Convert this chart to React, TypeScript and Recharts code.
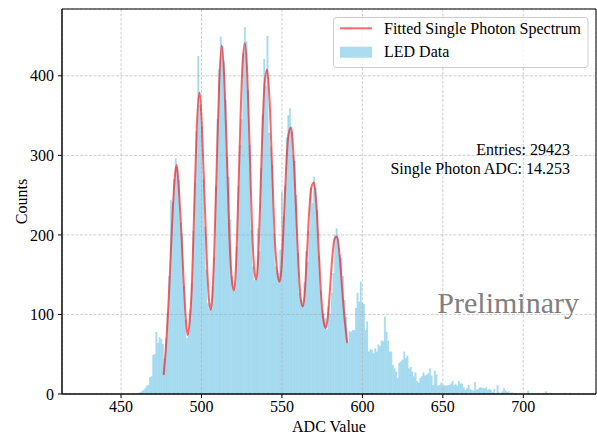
import React from 'react';
import {
  ComposedChart, LineChart, Bar, Line, XAxis, YAxis, CartesianGrid, ReferenceArea, Label
} from 'recharts';

const FONT = '"Liberation Serif", "Times New Roman", serif';

// LED histogram, one bin per ADC count starting at 461
const FIRST_BIN = 461;
const ledCounts = [
  1, 2, 3, 5, 7, 10, 11, 21, 22, 49,
  50, 78, 64, 71, 69, 63, 44, 70, 102, 148,
  244, 241, 270, 296, 285, 269, 215, 202, 135, 93,
  70, 76, 106, 139, 205, 265, 330, 425, 363, 336,
  270, 210, 156, 114, 106, 108, 135, 171, 261, 345,
  408, 449, 437, 418, 370, 298, 273, 219, 148, 129,
  139, 185, 261, 313, 345, 428, 461, 443, 382, 313,
  206, 160, 143, 145, 208, 179, 284, 351, 421, 387,
  450, 328, 311, 288, 202, 160, 155, 152, 181, 254,
  223, 262, 322, 350, 359, 330, 300, 293, 250, 177,
  127, 118, 112, 140, 179, 166, 204, 259, 240, 273,
  259, 231, 173, 130, 106, 101, 95, 81, 110, 101,
  127, 152, 200, 208, 196, 175, 171, 148, 118, 97,
  64, 79, 78, 80, 80, 108, 127, 116, 141, 114,
  113, 80, 91, 53, 56, 55, 51, 57, 53, 62,
  60, 67, 66, 97, 78, 67, 53, 53, 36, 32,
  28, 20, 39, 41, 43, 53, 45, 48, 32, 34,
  28, 22, 27, 16, 14, 20, 22, 27, 23, 24,
  26, 32, 23, 11, 29, 24, 10, 11, 14, 11,
  11, 10, 11, 11, 13, 16, 11, 12, 10, 16,
  13, 13, 8, 5, 7, 11, 6, 5, 4, 15,
  5, 6, 8, 8, 7, 7, 8, 5, 6, 5,
  2, 6, 1, 11, 2, 1, 3, 7, 4, 2,
  3, 1, 2, 1, 1, 1, 0, 1, 0, 1,
  0, 1, 4, 0, 1, 0, 0, 1, 0, 1,
  0, 0, 1, 3, 1, 0, 1, 0, 1, 0,
  0, 1, 0, 0, 0, 1, 0, 0, 1, 0,
];
const adcBins = ledCounts.map((_, i) => FIRST_BIN + i);

// fitted single photon spectrum
const fitAdc = [
  476.5, 478, 480, 482, 483.5, 484.6, 486, 487.5, 489, 490.3,
  491.4, 492.6, 494, 495.5, 497, 498.7, 500.3, 502, 503.5, 504.7,
  505.7, 506.8, 508, 509.5, 511, 512.6, 514.2, 515.8, 517.3, 518.8,
  520.1, 521.3, 522.5, 524, 525.5, 527, 528.5, 530, 531.5, 532.9,
  534, 535.1, 536.3, 537.7, 539.2, 540.8, 542.3, 543.8, 545.3, 547,
  548.5, 549.7, 551, 552.5, 554, 555.6, 557.2, 558.8, 560.3, 561.7,
  562.9, 564.1, 565.4, 566.8, 568.3, 569.9, 571.5, 573, 574.5, 576,
  577.2, 578.4, 579.8, 581.2, 582.7, 584.2, 585.8, 587.3, 588.9, 590.6,
];
const fitCounts = [
  24, 62, 135, 225, 275, 288, 255, 202, 139, 93,
  74, 90, 135, 235, 332, 379, 335, 240, 160, 117,
  106, 125, 185, 290, 390, 438, 395, 300, 200, 145,
  130, 155, 225, 330, 415, 441, 400, 305, 205, 155,
  144, 165, 230, 320, 390, 408, 370, 290, 205, 155,
  141, 158, 210, 280, 325, 335, 300, 230, 160, 120,
  110, 125, 170, 225, 260, 266, 235, 175, 120, 90,
  83, 95, 130, 170, 195, 198, 175, 135, 95, 64,
];

const xTicks = [450, 500, 550, 600, 650, 700];
const yTicks = [0, 100, 200, 300, 400];
const gridYTicks = [100, 200, 300, 400];
const X_DOMAIN: [number, number] = [413.3, 745.2];
const Y_DOMAIN: [number, number] = [0, 484];

const histData = adcBins.map((adc, i) => ({ adc, count: ledCounts[i] }));
const fitData = fitAdc.map((adc, i) => ({ adc, fit: fitCounts[i] }));

const W = 597;
const H = 434;
const MARGIN = { top: 9, right: 1, bottom: 0, left: 0 };
const Y_AXIS_W = 62;
const X_AXIS_H = 40;

const tickStyle = { fill: '#000', fontSize: 16, fontFamily: FONT };

export default function App() {
  return (
    <div style={{ position: 'relative', width: W, height: H, background: '#fff' }}>
      <style>{'body{margin:0}'}</style>

      {/* histogram + axes */}
      <div style={{ position: 'absolute', left: 0, top: 0 }}>
        <ComposedChart width={W} height={H} data={histData} margin={MARGIN} barGap={0} barCategoryGap={0}>
          <XAxis
            dataKey="adc" type="number" domain={X_DOMAIN} ticks={xTicks} allowDataOverflow
            height={X_AXIS_H} tickSize={4} tickMargin={3} tick={tickStyle}
            stroke="#000" tickLine={{ stroke: '#000' }}
          >
            <Label value="ADC Value" position="insideBottom" offset={2}
              style={{ fill: '#000', fontSize: 16, fontFamily: FONT }} />
          </XAxis>
          <YAxis
            type="number" domain={Y_DOMAIN} ticks={yTicks} allowDataOverflow
            width={Y_AXIS_W} tickSize={4} tickMargin={4} tick={tickStyle}
            stroke="#000" tickLine={{ stroke: '#000' }}
          >
            <Label value="Counts" angle={-90} position="insideLeft" offset={21}
              style={{ fill: '#000', fontSize: 16, fontFamily: FONT, textAnchor: 'middle' }} />
          </YAxis>
          <Bar dataKey="count" barSize={1.6} fill="#87CEEB" fillOpacity={0.7}
            stroke="#87CEEB" strokeOpacity={0.5} strokeWidth={0.4} isAnimationActive={false} />
        </ComposedChart>
      </div>

      {/* grid, fit curve and frame on top */}
      <div style={{ position: 'absolute', left: 0, top: 0 }}>
        <LineChart width={W} height={H} data={fitData}
          margin={{ top: MARGIN.top, right: MARGIN.right, bottom: MARGIN.bottom + X_AXIS_H, left: MARGIN.left + Y_AXIS_W }}>
          <XAxis dataKey="adc" type="number" domain={X_DOMAIN} ticks={xTicks} allowDataOverflow hide />
          <YAxis type="number" domain={Y_DOMAIN} ticks={gridYTicks} allowDataOverflow hide />
          <CartesianGrid stroke="#b0b0b0" strokeOpacity={0.75} strokeWidth={0.8} strokeDasharray="3 1.5" />
          <Line dataKey="fit" type="monotone" stroke="#ff0000" strokeOpacity={0.6} strokeWidth={2}
            dot={false} activeDot={false} isAnimationActive={false} />
          <ReferenceArea x1={X_DOMAIN[0]} x2={X_DOMAIN[1]} y1={Y_DOMAIN[0]} y2={Y_DOMAIN[1]}
            fill="none" stroke="#000" strokeWidth={1} ifOverflow="visible" />
        </LineChart>
      </div>

      {/* legend and annotations */}
      <svg width={W} height={H} style={{ position: 'absolute', left: 0, top: 0, pointerEvents: 'none' }}
        fontFamily={FONT}>
        <rect x={333.5} y={17.5} width={254.5} height={50} rx={3}
          fill="#fff" fillOpacity={0.8} stroke="#cccccc" />
        <line x1={340} x2={372} y1={28.3} y2={28.3} stroke="#ff0000" strokeOpacity={0.6} strokeWidth={2} />
        <rect x={340} y={46.7} width={32} height={11} fill="#87CEEB" fillOpacity={0.7} />
        <text x={384} y={34} fontSize={16} fill="#000">Fitted Single Photon Spectrum</text>
        <text x={384} y={56.5} fontSize={16} fill="#000">LED Data</text>
        <text x={570} y={155} fontSize={16} fill="#000" textAnchor="end">Entries: 29423</text>
        <text x={570} y={173.5} fontSize={16} fill="#000" textAnchor="end">Single Photon ADC: 14.253</text>
        <text x={579} y={313} fontSize={30} fill="#808080" textAnchor="end">Preliminary</text>
      </svg>
    </div>
  );
}
